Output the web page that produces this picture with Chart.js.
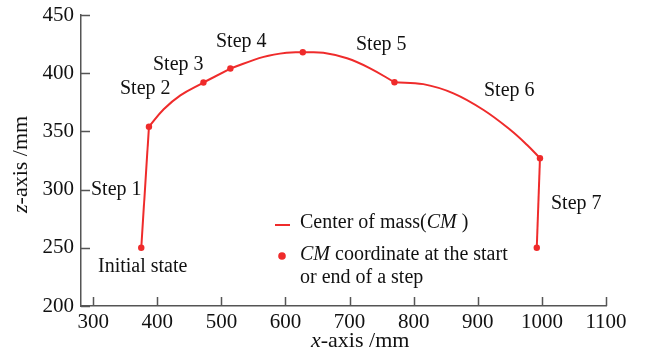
<!DOCTYPE html>
<html>
<head>
<meta charset="utf-8">
<script src="https://cdn.jsdelivr.net/npm/chart.js@4"></script>
<style>
html,body{margin:0;padding:0;background:#fff;}
#wrap{width:646px;height:358px;}
</style>
</head>
<body>
<div id="wrap"><canvas id="c" width="646" height="358"></canvas></div>
<script>
// ---- data ----
const curveX = [375, 387, 410, 436, 472, 514, 566, 602, 627, 659, 696, 732, 770, 815, 862, 909, 951, 977, 997, 992];
const curveY = [250, 354, 369, 381, 392, 404, 414, 417.6, 418, 417.6, 412.8, 404.2, 392.2, 390.6, 382.7, 368.4, 351.2, 338.3, 327, 250];
const stepX = [375, 387, 472, 514, 627, 770, 997, 992];
const stepY = [250, 354, 392, 404, 418, 392.2, 327, 250];
const stepLabels = ['Initial state', 'Step 1', 'Step 2', 'Step 3', 'Step 4', 'Step 5', 'Step 6', 'Step 7'];
const xTicks = [300, 400, 500, 600, 700, 800, 900, 1000, 1100];
const yTicks = [200, 250, 300, 350, 400, 450];
const xRange = [281, 1100];
const yRange = [200, 450];

const RED = '#ef2b2b';
const AXIS = '#555555';
const TXT = '#111111';
const FONT = '"Liberation Serif", "DejaVu Serif", serif';

// split the curve into per-step pieces at step points
const curvePts = curveX.map((x, i) => ({x, y: curveY[i]}));
const breakIdx = stepX.map(sx => curveX.indexOf(sx));
const lineSets = [];
for (let k = 0; k < breakIdx.length - 1; k++) {
  const seg = curvePts.slice(breakIdx[k], breakIdx[k + 1] + 1);
  lineSets.push({
    type: 'line', data: seg, borderColor: RED, borderWidth: 2, pointRadius: 0,
    tension: seg.length > 2 ? 0.4 : 0, fill: false
  });
}

// label positions (pixel layout of annotation text)
const labelPos = [
  {x: 98, y: 267}, {x: 91, y: 190}, {x: 120, y: 89}, {x: 153, y: 65},
  {x: 216, y: 42}, {x: 356, y: 45}, {x: 484, y: 91}, {x: 551, y: 204}
];

function drawRich(ctx, parts, x, y, size) {
  let cx = x;
  for (const p of parts) {
    ctx.font = (p.i ? 'italic ' : '') + (size || 20) + 'px ' + FONT;
    ctx.fillText(p.t, cx, y);
    cx += ctx.measureText(p.t).width;
  }
}

const deco = {
  id: 'deco',
  afterDraw(chart) {
    const ctx = chart.ctx;
    const xs = chart.scales.x, ys = chart.scales.y;
    const area = chart.chartArea;
    ctx.save();
    ctx.strokeStyle = AXIS; ctx.lineWidth = 1.5;
    ctx.beginPath();
    xTicks.forEach(v => { const px = Math.round(xs.getPixelForValue(v)) + 0.5; ctx.moveTo(px, area.bottom); ctx.lineTo(px, area.bottom - 9); });
    yTicks.forEach(v => { const py = Math.round(ys.getPixelForValue(v)) + 0.5; ctx.moveTo(area.left, py); ctx.lineTo(area.left + 9, py); });
    ctx.stroke();
    ctx.fillStyle = TXT; ctx.textBaseline = 'middle'; ctx.textAlign = 'left';
    ctx.font = '20px ' + FONT;
    stepLabels.forEach((t, i) => ctx.fillText(t, labelPos[i].x, labelPos[i].y));
    // legend
    ctx.strokeStyle = RED; ctx.lineWidth = 2;
    ctx.beginPath(); ctx.moveTo(275, 225); ctx.lineTo(290, 225); ctx.stroke();
    ctx.fillStyle = RED;
    ctx.beginPath(); ctx.arc(282, 256, 3.8, 0, Math.PI * 2); ctx.fill();
    ctx.fillStyle = TXT;
    drawRich(ctx, [{t: 'Center of mass('}, {t: 'CM', i: true}, {t: ' )'}], 300, 223);
    drawRich(ctx, [{t: 'CM', i: true}, {t: ' coordinate at the start'}], 300, 255);
    drawRich(ctx, [{t: 'or end of a step'}], 300, 278);
    // axis titles
    drawRich(ctx, [{t: 'x', i: true}, {t: '-axis /mm'}], 311, 341, 22);
    ctx.translate(21, 213);
    ctx.rotate(-Math.PI / 2);
    drawRich(ctx, [{t: 'z', i: true}, {t: '-axis /mm'}], 0, 0, 22);
    ctx.restore();
  }
};

new Chart(document.getElementById('c'), {
  data: {
    datasets: [
      ...lineSets,
      {type: 'scatter', data: stepX.map((x, i) => ({x, y: stepY[i]})), pointRadius: 3.2, pointBackgroundColor: RED, pointBorderWidth: 0, showLine: false}
    ]
  },
  options: {
    responsive: false, animation: false,
    layout: {padding: {left: 0, top: 15, right: 40, bottom: 0}},
    plugins: {legend: {display: false}, tooltip: {enabled: false}},
    scales: {
      x: {
        type: 'linear', min: xRange[0], max: xRange[1],
        afterBuildTicks: s => { s.ticks = xTicks.map(v => ({value: v})); },
        afterFit: s => { s.height = 52; s.paddingLeft = 0; s.paddingRight = 0; },
        grid: {drawOnChartArea: false, drawTicks: false},
        border: {display: true, color: AXIS, width: 1.5},
        ticks: {color: TXT, padding: 4, font: {family: FONT, size: 21}, autoSkip: false, maxRotation: 0, callback: v => String(v)}
      },
      y: {
        type: 'linear', min: yRange[0], max: yRange[1],
        afterBuildTicks: s => { s.ticks = yTicks.map(v => ({value: v})); },
        afterFit: s => { s.width = 81; s.paddingTop = 0; s.paddingBottom = 0; },
        grid: {drawOnChartArea: false, drawTicks: false},
        border: {display: true, color: AXIS, width: 1.5},
        ticks: {color: TXT, padding: 7, font: {family: FONT, size: 21}, callback: v => String(v)}
      }
    }
  },
  plugins: [deco]
});
</script>
</body>
</html>
